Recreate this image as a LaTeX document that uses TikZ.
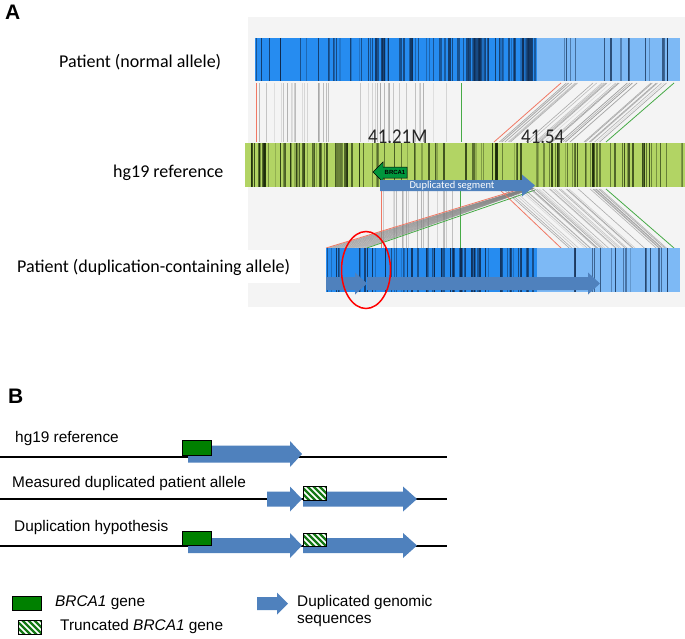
\documentclass[tikz,border=0pt]{standalone}
\usepackage{fontspec}
\setmainfont{Liberation Sans}
\newfontfamily\calfont{Carlito}
\usetikzlibrary{calc}
\definecolor{bgray}{RGB}{244,244,244}
\definecolor{bblue}{RGB}{38,140,240}
\definecolor{lblue}{RGB}{125,185,245}
\definecolor{dnavy}{RGB}{15,40,75}
\definecolor{ggreen}{RGB}{178,212,100}
\definecolor{dolive}{RGB}{25,40,8}
\definecolor{arblue}{RGB}{79,129,189}
\definecolor{gbox}{RGB}{0,128,0}
\definecolor{hgreen}{RGB}{20,120,20}
\definecolor{lred}{RGB}{240,120,100}
\definecolor{lgreen}{RGB}{70,170,70}
\definecolor{brgreen}{RGB}{0,150,60}

\newcommand\stripes[7]{% seed,n,x1,x2,y1,y2,color
 \pgfmathsetseed{#1}%
 \foreach \k in {1,...,#2}{%
  \pgfmathsetmacro\sx{#3+rnd*(#4-#3)}%
  \pgfmathsetmacro\sw{0.4+rnd*1.6}%
  \pgfmathsetmacro\so{0.2+rnd*0.65}%
  \draw[#7, line width=\sw pt, opacity=\so] (\sx,#5) -- (\sx,#6);
 }}
\newcommand\blockarrow[7]{% color,x1,xtip,yc,shafthalf,headhalf,headlen
 \fill[#1] (#2,#4-#5) -- (#3-#7,#4-#5) -- (#3-#7,#4-#6) -- (#3,#4) -- (#3-#7,#4+#6) -- (#3-#7,#4+#5) -- (#2,#4+#5) -- cycle;}
\newcommand\hatchbox[4]{% x1,y1,x2,y2
 \begin{scope}
 \clip (#1,#2) rectangle (#3,#4);
 \fill[white] (#1,#2) rectangle (#3,#4);
 \foreach \d in {-20,-14,...,40}{\draw[hgreen, line width=2.4pt] (#1+\d,#2) -- ++(16,16);}
 \end{scope}
 \draw[black, line width=0.9pt] (#1,#2) rectangle (#3,#4);}

\tikzset{
 lbl/.style={anchor=west, inner sep=0pt, font=\fontsize{15.4}{18}\selectfont},
 albl/.style={anchor=west, inner sep=0pt, font=\calfont\fontsize{18}{21}\selectfont},
 mlbl/.style={anchor=base west, inner sep=0pt, xscale=0.9, font=\calfont\fontsize{21}{23}\selectfont, text=black!85},
 panel/.style={anchor=north west, inner sep=0pt, font=\bfseries\fontsize{21}{24}\selectfont},
 genome/.style={line width=1.7pt, black},
 genebox/.style={fill=gbox, draw=black, line width=0.9pt},
 conn/.style={gray, line width=0.6pt},
}

\begin{document}
\begin{tikzpicture}[x=1pt,y=-1pt]
\useasboundingbox (0,0) rectangle (685,638);
\fill[white] (0,0) rectangle (685,638);

% ---------------- Panel A ----------------
\node[panel] (pA) at (5,5) {A};
\fill[bgray] (248,17) rectangle (685,307);
\fill[white] (10,250) rectangle (300,283);

% top bar
\fill[bblue] (255,38) rectangle (537,81);
\fill[lblue] (537,38) rectangle (680,81);
\stripes{3}{50}{256}{537}{38}{81}{dnavy}
\stripes{4}{30}{465}{537}{38}{81}{dnavy}
\stripes{5}{20}{330}{450}{38}{81}{dnavy}
\stripes{6}{16}{540}{676}{38}{81}{dnavy}

% connecting lines top
\pgfmathsetseed{11}
\foreach \k in {1,...,40}{\pgfmathsetmacro\sx{258+rnd*200}\pgfmathsetmacro\so{0.15+rnd*0.45}\draw[conn, opacity=\so] (\sx,83) -- (\sx,142);}
\draw[lred, line width=0.8pt] (256,83) -- (256,142);
\draw[lgreen, line width=0.8pt] (461,83) -- (461,142);
\pgfmathsetseed{12}
\foreach \k in {1,...,35}{\pgfmathsetmacro\sx{497+rnd*107}\pgfmathsetmacro\so{0.2+rnd*0.5}\draw[conn, opacity=\so] (\sx,142) -- (\sx+67,83);}
\draw[lred, line width=0.8pt] (494,142) -- (561,83);
\draw[lgreen, line width=0.8pt] (606,142) -- (674,83);

% labels
\node[albl] (t1) at (59,62) {Patient (normal allele)};
\node[mlbl] (m1) at (368,143.5) {41.21M};
\node[mlbl] (m2) at (521,143.5) {41.54};

% green bar
\fill[ggreen] (245,143) rectangle (685,187);
\stripes{21}{110}{246}{684}{143}{187}{dolive}
\stripes{22}{30}{250}{400}{143}{187}{dolive}
\node[albl] (t2) at (113,173) {hg19 reference};

% lower connecting lines
\pgfmathsetseed{31}
\foreach \k in {1,...,18}{\pgfmathsetmacro\sx{383+rnd*76}\pgfmathsetmacro\so{0.15+rnd*0.45}\draw[conn, opacity=\so] (\sx,189) -- (\sx,248);}
\draw[lred, line width=0.8pt] (381,189) -- (381,248);
\draw[lgreen, line width=0.8pt] (460,189) -- (460,248);
\foreach \t in {0.05,0.1,...,0.96}{\draw[conn, opacity=0.55] (527+8*\t,188) -- (326+41*\t,248);}
\draw[lred, line width=0.8pt] (527,187) -- (326,248);
\draw[lgreen, line width=0.8pt] (535,190) -- (367,248);
\pgfmathsetseed{32}
\foreach \k in {1,...,35}{\pgfmathsetmacro\sx{501+rnd*104}\pgfmathsetmacro\so{0.2+rnd*0.5}\draw[conn, opacity=\so] (\sx,189) -- (\sx+66,248);}
\draw[lred, line width=0.8pt] (499,189) -- (561,248);
\draw[lgreen, line width=0.8pt] (606,189) -- (674,248);

% BRCA1 small arrow
\draw[black, fill=brgreen, line width=0.5pt] (373,172) -- (383,162) -- (383,167) -- (407,167) -- (407,178) -- (383,178) -- (383,182) -- cycle;
\node[inner sep=0pt, font=\bfseries\fontsize{6}{6}\selectfont, text=black] (brca) at (395,172.5) {BRCA1};
% duplicated segment arrow
\blockarrow{arblue}{380}{535}{185.5}{5.5}{11}{13}
\node[inner sep=0pt, font=\calfont\fontsize{10.5}{11}\selectfont, text=white] (dseg) at (452,185.5) {Duplicated segment};

% bottom bar
\fill[bblue] (326,248) rectangle (537,292);
\fill[lblue] (537,248) rectangle (680,292);
\stripes{41}{55}{327}{537}{248}{292}{dnavy}
\stripes{42}{30}{430}{530}{248}{292}{dnavy}
\stripes{43}{16}{540}{676}{248}{292}{dnavy}
\blockarrow{arblue}{326}{367}{283.5}{6.5}{11}{12}
\blockarrow{arblue}{367}{600}{283.5}{6.5}{11}{12}
\node[albl] (t3) at (17,267) {Patient (duplication-containing allele)};
\draw[red, line width=1.5pt] (366,270) ellipse [x radius=24.5, y radius=38.5];

% ---------------- Panel B ----------------
\node[panel] (pB) at (8,389) {B};
\coordinate (g1a) at (0,457); \coordinate (g1b) at (447,457);
\coordinate (g2a) at (0,499); \coordinate (g2b) at (447,499);
\coordinate (g3a) at (0,546); \coordinate (g3b) at (447,546);
\draw[genome] (g1a) -- (g1b);
\draw[genome] (g2a) -- (g2b);
\draw[genome] (g3a) -- (g3b);

\node[lbl] (r1) at (15,439) {hg19 reference};
\node[lbl] (r2) at (12,484) {Measured duplicated patient allele};
\node[lbl] (r3) at (14,528) {Duplication hypothesis};

% row 1
\blockarrow{arblue}{188}{302}{454}{8.5}{13}{12}
\draw[genebox] (182,440) rectangle (211,455);
% row 2
\blockarrow{arblue}{267}{302}{499}{7.5}{12.5}{12}
\blockarrow{arblue}{303}{417}{499}{7.5}{12.5}{14}
\hatchbox{303}{486}{326}{500}
% row 3
\blockarrow{arblue}{188}{302}{545.5}{7.5}{12.5}{12}
\blockarrow{arblue}{303}{417}{545.5}{7.5}{12.5}{14}
\draw[genebox] (182,531) rectangle (211,545);
\hatchbox{303}{533}{326}{546}

% legend
\draw[genebox] (12,596) rectangle (41,610);
\node[lbl] (lg1) at (55,603) {\textit{BRCA1} gene};
\hatchbox{18}{620}{41}{634}
\node[lbl] (lg2) at (60,627) {Truncated \textit{BRCA1} gene};
\blockarrow{arblue}{257}{288}{603.5}{6.5}{11}{11}
\node[lbl, anchor=north west, align=left] (lg3) at (297,595) {Duplicated genomic\\[-0.5pt]sequences};
\end{tikzpicture}
\end{document}
